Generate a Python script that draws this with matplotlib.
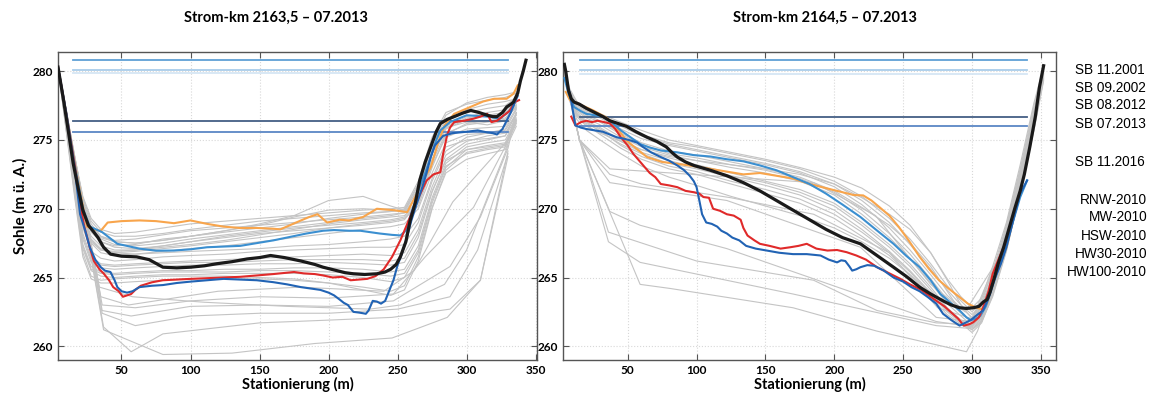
import matplotlib
matplotlib.use('Agg')
from matplotlib import pyplot as plt
import numpy as np

plt.rcParams['font.family'] = ['Lato', 'DejaVu Sans']

titles = ['Strom-km 2163,5 \u2013 07.2013', 'Strom-km 2164,5 \u2013 07.2013']
legend_labels = ['SB 11.2001', 'SB 09.2002', 'SB 08.2012', 'SB 07.2013', 'SB 11.2016',
                 'RNW-2010', 'MW-2010', 'HSW-2010', 'HW30-2010', 'HW100-2010']

# water levels (RNW, MW, HSW, HW30, HW100)
wl_left = [275.6, 276.35, 279.85, 280.1, 280.85]
wl_right = [276.05, 276.7, 279.8, 280.1, 280.85]
wl_x_left = [15, 330]
wl_x_right = [15, 340]

# ---------------- Strom-km 2163,5 (left) ----------------
L_sb2001_x = [4, 10, 16, 22, 25, 30, 35, 40, 50, 63, 75, 88, 100, 112, 124, 136, 148, 160, 165, 172, 180, 186, 192, 199, 208,
              215, 225, 235, 247, 257, 264, 269, 274, 279, 284, 291, 298, 305, 312, 320, 329, 334, 337]
L_sb2001_y = [280.3, 277.0, 273.4, 270.2, 268.7, 268.5, 268.4, 269.0, 269.1, 269.15, 269.1, 268.95, 269.15, 268.9, 268.7, 268.6,
              268.6, 268.55, 268.5, 268.8, 269.15, 269.4, 269.6, 269.0, 269.2, 269.15, 269.4, 270.0, 269.9, 269.75, 271.1,
              272.2, 273.0, 274.7, 276.06, 276.9, 277.2, 277.5, 277.8, 278.0, 278.0, 278.37, 278.97]

L_sb2002_x = [4, 10, 16, 22, 27, 36, 47, 63, 75, 88, 100, 112, 124, 136, 148, 160, 172, 184, 196, 204, 215, 223, 237, 246, 252,
              256, 259, 263, 266, 270, 274, 278, 281, 288, 300, 315, 324, 330, 334]
L_sb2002_y = [280.3, 277.0, 273.3, 270.0, 268.7, 268.3, 267.45, 267.1, 266.95, 266.96, 267.05, 267.2, 267.25, 267.3, 267.5,
              267.7, 267.95, 268.2, 268.4, 268.45, 268.4, 268.4, 268.2, 268.1, 268.06, 268.4, 269.4, 270.6, 271.6, 272.6,
              273.76, 275.0, 275.7, 276.3, 276.8, 276.7, 276.55, 277.0, 277.5]

L_sb2012_x = [4, 10, 16, 20, 23, 27, 30, 34, 37, 41, 44, 48, 51, 54, 57, 60, 64, 72, 80, 90, 100, 112, 124, 136, 148, 160, 170,
              175, 182, 190, 196, 203, 210, 216, 222, 228, 234, 240, 246, 252, 257, 262, 267, 271, 276, 281, 283, 286, 288,
              291, 298, 305, 310, 315, 318, 322, 327, 331, 335, 338]
L_sb2012_y = [280.3, 276.9, 273.2, 270.4, 268.7, 267.2, 266.2, 265.6, 265.3, 264.8, 264.3, 264.0, 263.6, 263.7, 263.8, 264.1,
              264.4, 264.65, 264.8, 264.85, 264.9, 264.95, 265.0, 265.05, 265.15, 265.25, 265.35, 265.4, 265.3, 265.25,
              265.15, 265.0, 265.05, 264.8, 264.85, 264.9, 265.1, 265.6, 266.5, 267.7, 268.9, 270.1, 271.2, 272.05, 272.5,
              272.66, 274.0, 275.4, 275.9, 276.3, 276.4, 276.55, 276.7, 276.9, 276.3, 276.4, 276.8, 277.1, 277.76, 277.9]

L_sb2013_x = [4, 8, 12, 15, 19, 22, 26, 30, 33, 37, 42, 50, 61, 70, 80, 90, 100, 110, 119, 130, 141, 150, 158, 168, 180, 190,
              196, 204, 212, 218, 226, 235, 241, 245, 249, 252, 256, 259, 263, 266, 270, 274, 278, 281, 286, 291, 297, 303,
              309, 315, 319, 322, 326, 329, 332, 334, 337, 339, 341, 343]
L_sb2013_y = [280.3, 277.9, 275.3, 273.3, 271.3, 269.9, 268.8, 268.3, 267.9, 267.2, 266.7, 266.55, 266.5, 266.3, 265.75,
              265.7, 265.75, 265.85, 266.0, 266.15, 266.35, 266.45, 266.6, 266.45, 266.2, 265.95, 265.75, 265.55, 265.35,
              265.27, 265.22, 265.27, 265.4, 265.6, 265.95, 266.5, 267.6, 269.1, 270.5, 272.05, 273.4, 274.5, 275.6, 276.2,
              276.5, 276.7, 276.95, 277.15, 277.0, 276.8, 276.7, 276.7, 277.0, 277.4, 277.6, 277.76, 278.4, 279.3, 280.0,
              280.8]

L_sb2016_x = [4, 10, 16, 20, 24, 27, 31, 35, 38, 42, 45, 47, 50, 54, 58, 63, 72, 80, 90, 100, 112, 124, 136, 148, 160, 170,
              180, 187, 194, 200, 204, 208, 211, 214, 218, 222, 225, 227, 229, 232, 235, 238, 241, 243, 245, 247, 250, 253,
              257, 260, 264, 268, 271, 274, 277, 283, 290, 300, 308, 315, 319, 322, 326, 329, 332, 335, 337]
L_sb2016_y = [280.3, 276.9, 273.0, 269.6, 268.3, 267.2, 266.3, 265.75, 265.5, 265.4, 264.8, 264.3, 264.0, 263.9, 264.0,
              264.3, 264.4, 264.45, 264.6, 264.7, 264.8, 264.9, 264.85, 264.8, 264.66, 264.5, 264.3, 264.2, 264.1, 263.9,
              263.7, 263.4, 263.16, 263.0, 262.5, 262.45, 262.4, 262.36, 262.6, 263.3, 263.25, 263.1, 263.3, 263.8, 264.3,
              264.8, 265.9, 266.7, 268.0, 269.15, 270.4, 271.6, 272.6, 273.76, 274.6, 275.3, 275.5, 275.6, 275.7, 275.55,
              275.5, 275.4, 275.8, 276.4, 277.0, 277.76, 278.2]

# grey survey profiles, shared stations
L_grid = [4, 10, 16, 22, 28, 35, 45, 60, 80, 100, 125, 150, 175, 200, 225, 245, 255, 265, 275, 285, 300, 315, 328, 336]
L_grey = [
    [280.3, 277.1, 273.8, 270.9, 269.3, 268.5, 268.2, 268.3, 268.6, 268.9, 269.1, 269.3, 269.5, 269.7, 269.9, 270.0, 270.1, 272.0, 275.2, 277.0, 277.6, 277.9, 278.1, 278.4],
    [280.3, 277.0, 273.7, 270.8, 269.1, 268.3, 268.0, 268.0, 268.2, 268.5, 268.8, 269.1, 269.3, 269.5, 269.7, 269.8, 269.9, 271.7, 274.7, 276.5, 277.0, 277.3, 277.5, 278.1],
    [280.3, 277.0, 273.6, 270.6, 268.9, 268.0, 267.6, 267.5, 267.7, 268.0, 268.3, 268.6, 268.9, 269.3, 269.6, 269.8, 270.0, 271.8, 274.8, 276.8, 277.7, 278.1, 278.3, 278.5],
    [280.3, 276.9, 273.5, 270.4, 268.7, 268.0, 267.7, 267.8, 268.1, 268.4, 268.6, 268.8, 269.0, 269.2, 269.4, 269.6, 269.7, 271.0, 274.0, 275.9, 276.6, 276.8, 277.0, 277.8],
    [280.3, 276.8, 273.2, 270.2, 268.6, 267.8, 267.4, 267.3, 267.5, 267.8, 268.1, 268.4, 268.7, 269.0, 269.3, 269.5, 269.7, 271.2, 274.3, 276.3, 277.2, 277.6, 277.8, 278.0],
    [280.3, 276.9, 273.4, 270.0, 268.3, 267.6, 267.3, 267.4, 267.8, 268.0, 268.4, 268.8, 269.4, 269.9, 270.0, 269.9, 269.8, 271.5, 274.5, 276.0, 276.7, 277.0, 277.2, 277.7],
    [280.3, 276.8, 273.2, 270.0, 268.4, 267.6, 267.2, 267.1, 267.3, 267.6, 267.9, 268.2, 268.4, 268.6, 268.8, 269.0, 269.2, 270.5, 273.4, 275.5, 276.1, 276.3, 276.5, 277.4],
    [280.3, 276.7, 273.0, 269.6, 268.0, 267.3, 267.0, 267.0, 267.2, 267.4, 267.7, 268.1, 268.5, 268.9, 269.2, 269.4, 269.5, 270.6, 273.6, 275.8, 276.5, 276.8, 277.0, 277.5],
    [280.3, 276.5, 272.8, 269.4, 267.8, 267.1, 266.8, 266.9, 267.1, 267.3, 267.6, 267.9, 268.2, 268.6, 268.9, 269.1, 269.3, 270.2, 273.0, 275.4, 276.2, 276.4, 276.6, 277.4],
    [280.3, 276.8, 273.3, 270.1, 268.5, 267.9, 267.6, 267.5, 267.7, 268.0, 268.4, 268.9, 269.5, 270.6, 270.9, 270.2, 269.9, 271.4, 274.2, 275.9, 276.3, 276.1, 276.4, 277.6],
    [280.3, 276.6, 272.9, 269.3, 267.7, 267.0, 266.9, 267.0, 267.3, 267.6, 268.0, 268.3, 268.6, 268.8, 269.0, 269.2, 269.4, 270.4, 273.2, 275.2, 275.8, 275.9, 276.0, 277.3],
    [280.3, 276.4, 272.6, 269.1, 267.5, 266.8, 266.6, 266.7, 266.9, 267.1, 267.3, 267.6, 267.9, 268.2, 268.5, 268.7, 268.9, 270.0, 272.6, 274.8, 275.4, 275.5, 275.8, 277.2],
    [280.3, 276.5, 272.7, 269.2, 267.6, 267.0, 266.8, 266.7, 266.8, 266.9, 267.0, 267.1, 267.3, 267.4, 267.6, 267.8, 268.0, 269.3, 272.2, 274.5, 275.0, 275.1, 275.3, 277.0],
    [280.3, 276.3, 272.2, 268.6, 266.9, 266.4, 266.2, 266.3, 266.5, 266.6, 266.7, 266.9, 267.0, 267.1, 267.2, 267.2, 267.4, 269.0, 272.0, 274.2, 275.2, 275.5, 275.7, 276.9],
    [280.3, 276.2, 272.0, 268.2, 266.5, 266.0, 265.9, 266.0, 266.1, 266.2, 266.3, 266.4, 266.5, 266.6, 266.7, 266.6, 266.8, 268.5, 271.6, 273.9, 274.9, 275.3, 275.5, 276.8],
    [280.3, 276.1, 271.9, 268.0, 266.3, 265.9, 265.8, 265.9, 266.0, 266.1, 266.1, 266.2, 266.3, 266.3, 266.3, 266.2, 266.4, 268.2, 271.3, 273.5, 274.3, 274.5, 274.7, 276.4],
    [280.3, 276.0, 271.7, 267.8, 266.1, 265.7, 265.6, 265.7, 265.8, 265.9, 265.9, 266.0, 266.0, 266.1, 266.0, 265.9, 266.1, 267.9, 271.2, 273.6, 274.7, 275.0, 275.3, 276.6],
    [280.3, 275.9, 271.5, 267.4, 265.8, 265.4, 265.3, 265.4, 265.5, 265.5, 265.6, 265.6, 265.7, 265.7, 265.6, 265.4, 265.6, 267.3, 270.8, 273.3, 274.5, 274.8, 275.0, 276.5],
    [280.3, 275.8, 271.4, 267.3, 265.6, 265.3, 265.2, 265.3, 265.4, 265.4, 265.4, 265.5, 265.5, 265.4, 265.3, 265.1, 265.3, 267.0, 270.6, 273.1, 274.0, 274.3, 274.5, 276.2],
    [280.3, 275.8, 271.3, 267.1, 265.5, 265.1, 265.0, 265.1, 265.2, 265.2, 265.3, 265.3, 265.3, 265.2, 265.0, 264.7, 265.0, 266.8, 270.4, 273.0, 274.3, 274.6, 274.8, 276.4],
    [280.3, 275.7, 271.1, 266.8, 265.1, 264.8, 264.9, 265.0, 265.1, 265.1, 265.1, 265.0, 264.9, 264.6, 264.1, 263.7, 264.1, 266.2, 270.0, 272.8, 274.1, 274.4, 274.6, 276.3],
    [280.3, 275.6, 270.9, 266.5, 264.9, 264.6, 264.6, 264.7, 264.8, 264.9, 264.9, 264.9, 264.8, 264.6, 264.3, 264.0, 264.4, 266.5, 270.1, 272.6, 273.6, 274.0, 274.3, 276.0],
]
# older surveys with few stations
L_old = [
    ([4, 36, 60, 100, 150, 200, 247, 270, 305, 329, 336], [280.3, 263.0, 262.8, 263.3, 263.6, 263.5, 263.8, 266.5, 270.1, 274.7, 277.0]),
    ([4, 36, 57, 100, 150, 200, 247, 288, 310, 330, 336], [280.3, 262.6, 262.2, 262.9, 263.0, 262.9, 263.3, 265.8, 269.4, 274.4, 277.0]),
    ([4, 36, 60, 100, 150, 200, 250, 288, 308, 330], [280.3, 262.4, 261.5, 262.2, 262.4, 262.4, 262.7, 263.6, 267.0, 274.0]),
    ([4, 37, 57, 80, 150, 200, 246, 288, 310, 330], [280.3, 261.4, 259.6, 260.9, 261.7, 261.9, 262.1, 262.7, 264.8, 274.2]),
    ([4, 37, 80, 130, 190, 246, 286, 310, 330], [280.3, 261.2, 259.4, 259.5, 260.2, 260.6, 262.1, 264.8, 273.8]),
    ([4, 35, 55, 120, 180, 240, 262, 290, 330], [280.3, 263.6, 263.0, 264.0, 264.3, 264.0, 265.5, 270.5, 275.0]),
    ([4, 34, 58, 110, 170, 230, 252, 284, 300, 330], [280.3, 264.3, 263.6, 263.2, 262.9, 262.7, 263.0, 264.5, 267.0, 274.6]),
]

# ---------------- Strom-km 2164,5 (right) ----------------
R_sb2001_x = [5, 8, 15, 25, 35, 42, 49, 56, 64, 75, 86, 98, 110, 122, 134, 146, 158, 170, 182, 194, 206, 214, 221, 227, 233,
              240, 247, 254, 262, 269, 276, 283, 291, 297, 303, 307, 311, 315, 320, 325, 330, 335]
R_sb2001_y = [278.5, 277.9, 277.6, 277.15, 276.6, 275.9, 274.97, 274.4, 273.76, 273.4, 273.27, 273.1, 272.9, 272.7, 272.5,
              272.6, 272.4, 272.2, 271.8, 271.5, 271.2, 271.0, 270.97, 270.6, 270.1, 269.5, 268.66, 267.7, 266.5, 265.6,
              264.8, 264.2, 263.57, 263.1, 262.8, 262.7, 263.1, 264.8, 266.0, 267.2, 269.2, 271.3]

R_sb2002_x = [4, 7, 11, 16, 20, 26, 32, 38, 45, 52, 59, 66, 74, 86, 98, 110, 122, 134, 146, 158, 170, 182, 194, 206, 219, 230,
              243, 252, 262, 270, 277, 284, 291, 296, 299, 303, 306, 310, 313, 318, 323, 329, 335, 340]
R_sb2002_y = [279.5, 278.4, 277.4, 277.1, 276.9, 276.8, 276.7, 276.3, 275.7, 275.2, 274.7, 274.45, 274.24, 274.1, 273.9,
              273.8, 273.6, 273.45, 273.15, 272.8, 272.3, 271.8, 271.1, 270.3, 269.4, 268.5, 267.45, 266.6, 265.75, 264.8,
              263.8, 263.2, 262.6, 262.1, 261.9, 262.0, 262.2, 262.9, 263.8, 265.3, 266.7, 268.8, 270.85, 272.06]

R_sb2012_x = [9, 12, 16, 20, 24, 28, 33, 37, 41, 45, 50, 54, 60, 66, 70, 74, 80, 86, 92, 98, 102, 105, 109, 112, 117, 122, 127,
              132, 134, 137, 142, 146, 153, 161, 168, 174, 180, 187, 195, 202, 209, 216, 223, 231, 240, 248, 255, 263, 272,
              280, 286, 290, 294, 298, 301, 305, 308, 312, 315, 320, 325]
R_sb2012_y = [276.7, 276.06, 276.3, 276.4, 276.3, 276.4, 276.3, 276.2, 275.8, 275.2, 274.6, 274.0, 273.3, 272.6, 272.3,
              271.8, 271.7, 271.57, 271.3, 271.2, 271.1, 270.85, 270.8, 270.0, 269.85, 269.6, 269.5, 269.2, 268.6, 268.05,
              267.7, 267.45, 267.3, 267.1, 267.2, 267.3, 267.45, 267.1, 266.96, 267.0, 266.84, 266.6, 266.3, 265.75, 265.3,
              264.9, 264.5, 264.1, 263.45, 262.9, 262.36, 262.0, 261.5, 261.6, 261.75, 262.1, 262.8, 264.0, 265.27, 266.5,
              267.7]

R_sb2013_x = [4, 5, 7, 9, 11, 15, 20, 26, 32, 37, 43, 49, 56, 64, 71, 78, 82, 86, 92, 98, 110, 122, 134, 146, 158, 170, 182,
              194, 206, 219, 231, 243, 252, 262, 270, 279, 285, 291, 296, 301, 305, 308, 311, 313, 316, 319, 323, 327, 331,
              335, 338, 342, 346, 349, 352]
R_sb2013_y = [280.5, 280.0, 278.6, 278.0, 277.76, 277.6, 277.3, 277.0, 276.7, 276.4, 276.2, 276.0, 275.6, 275.2, 274.9,
              274.5, 274.1, 273.76, 273.4, 273.15, 272.8, 272.4, 271.9, 271.3, 270.6, 269.9, 269.2, 268.5, 267.9, 267.45,
              266.6, 265.75, 265.1, 264.3, 263.8, 263.3, 263.0, 262.8, 262.75, 262.8, 262.9, 263.2, 263.4, 263.9, 264.9,
              266.0, 267.2, 268.6, 270.0, 271.3, 272.5, 274.5, 276.7, 278.85, 280.4]

R_sb2016_x = [6, 8, 12, 16, 20, 26, 32, 37, 42, 47, 52, 57, 61, 67, 74, 80, 86, 91, 95, 98, 100, 102, 104, 107, 111, 115,
              118, 122, 126, 131, 136, 143, 151, 160, 170, 180, 190, 196, 202, 205, 208, 211, 213, 216, 219, 224, 229, 236,
              243, 250, 256, 262, 268, 274, 279, 285, 291, 295, 299, 304, 308, 312, 316, 321, 325, 330, 335, 340]
R_sb2016_y = [279.0, 278.4, 276.06, 275.9, 275.8, 275.7, 275.6, 275.4, 275.2, 275.1, 274.97, 274.8, 274.5, 274.1, 273.76,
              273.5, 273.15, 272.8, 272.4, 272.0, 271.57, 270.6, 269.6, 269.0, 268.9, 268.7, 268.4, 268.2, 267.9, 267.7,
              267.3, 267.1, 266.96, 266.8, 266.7, 266.7, 266.6, 266.3, 266.1, 266.25, 266.2, 265.8, 265.5, 265.6, 265.75,
              265.9, 265.85, 265.5, 265.0, 264.7, 264.3, 264.0, 263.57, 263.1, 262.36, 261.9, 261.5, 261.7, 261.9, 262.3,
              262.6, 263.5, 264.8, 266.0, 267.2, 269.2, 271.1, 272.06]

R_grid = [3, 8, 13, 20, 30, 45, 60, 80, 100, 125, 150, 175, 200, 220, 240, 255, 270, 282, 292, 300, 307, 315, 325, 335, 345, 352]
R_grey = [
    [280.3, 278.7, 277.8, 277.3, 276.9, 276.3, 275.7, 275.0, 274.6, 274.1, 273.6, 273.0, 272.3, 271.5, 270.2, 268.8, 266.8, 264.9, 263.6, 262.8, 263.5, 265.8, 269.0, 273.2, 277.7, 280.3],
    [280.3, 278.6, 277.6, 277.2, 276.8, 276.1, 275.4, 274.8, 274.5, 274.0, 273.5, 272.9, 272.0, 270.9, 269.3, 267.8, 266.0, 264.4, 263.3, 262.5, 263.2, 265.5, 268.8, 272.9, 277.5, 280.2],
    [280.3, 278.5, 277.5, 277.1, 276.7, 276.0, 275.3, 274.7, 274.3, 273.8, 273.3, 272.7, 271.8, 270.6, 269.0, 267.4, 265.6, 264.1, 263.0, 262.3, 263.0, 265.2, 268.5, 272.6, 277.2, 280.1],
    [280.3, 278.4, 277.4, 277.0, 276.6, 275.8, 275.1, 274.6, 274.2, 273.7, 273.2, 272.6, 271.6, 270.3, 268.6, 267.0, 265.2, 263.7, 262.8, 262.1, 262.9, 265.0, 268.2, 272.4, 277.0, 280.0],
    [280.3, 278.3, 277.3, 276.8, 276.4, 275.5, 274.8, 274.2, 273.9, 273.4, 272.9, 272.3, 271.3, 270.1, 268.8, 267.5, 265.8, 264.0, 262.5, 261.7, 262.4, 264.6, 267.9, 272.1, 276.6, 279.9],
    [280.3, 278.3, 277.2, 276.7, 276.3, 275.4, 274.7, 274.0, 273.7, 273.2, 272.8, 272.2, 271.2, 269.9, 268.2, 266.7, 264.9, 263.4, 262.4, 261.8, 262.5, 264.5, 267.8, 272.0, 276.5, 279.8],
    [280.3, 278.2, 277.1, 276.6, 276.1, 275.2, 274.5, 273.9, 273.5, 273.0, 272.6, 272.0, 271.0, 269.6, 267.9, 266.4, 264.6, 263.1, 262.2, 261.5, 262.2, 264.2, 267.5, 271.8, 276.3, 279.7],
    [280.3, 278.1, 277.0, 276.4, 275.9, 275.0, 274.3, 273.7, 273.2, 272.6, 272.0, 271.4, 270.4, 269.0, 267.4, 266.0, 264.3, 262.8, 261.9, 261.3, 261.9, 263.9, 267.2, 271.5, 276.0, 279.5],
    [280.3, 278.1, 276.9, 276.3, 275.8, 274.9, 274.1, 273.5, 273.0, 272.4, 271.9, 271.2, 270.2, 268.8, 267.2, 265.8, 264.1, 262.7, 261.8, 261.2, 261.8, 263.8, 267.1, 271.3, 275.8, 279.4],
    [280.3, 278.0, 276.9, 276.3, 275.6, 274.7, 274.0, 273.3, 272.9, 272.3, 271.7, 271.0, 269.9, 268.5, 266.9, 265.5, 263.9, 262.6, 261.8, 261.4, 262.0, 264.4, 267.8, 272.0, 276.4, 279.8],
    [280.3, 278.0, 276.8, 276.2, 275.7, 274.6, 273.8, 273.1, 272.7, 272.0, 271.4, 270.7, 269.6, 268.3, 266.8, 265.4, 263.8, 262.5, 261.7, 261.0, 261.7, 263.7, 267.0, 271.3, 275.9, 279.5],
    [280.3, 278.0, 276.8, 276.1, 275.4, 274.4, 273.6, 272.9, 272.5, 271.8, 271.1, 270.4, 269.3, 268.0, 266.6, 265.2, 263.6, 262.3, 261.6, 261.2, 261.8, 263.6, 266.9, 271.2, 275.7, 279.3],
    [280.3, 277.9, 276.7, 276.0, 275.5, 274.9, 274.3, 273.8, 273.5, 273.2, 272.9, 272.5, 271.8, 270.8, 269.6, 268.5, 266.8, 264.8, 263.0, 262.0, 262.6, 264.9, 268.3, 272.5, 276.9, 280.0],
    [280.3, 277.8, 276.5, 275.7, 275.0, 274.0, 273.1, 272.3, 271.7, 270.9, 270.2, 269.5, 268.6, 267.6, 266.4, 265.2, 263.9, 262.7, 261.9, 261.5, 262.1, 264.0, 267.4, 271.6, 276.2, 279.6],
]
R_old = [
    ([3, 10, 15, 37, 60, 125, 185, 240, 275, 300, 320, 340, 352], [280.3, 277.0, 275.0, 272.5, 271.8, 270.8, 269.6, 266.8, 262.8, 262.0, 266.8, 274.8, 280.0]),
    ([3, 15, 37, 122, 219, 274, 300, 322, 342], [280.3, 275.0, 271.9, 270.6, 267.2, 262.1, 261.8, 267.0, 275.5]),
    ([3, 15, 37, 59, 122, 231, 274, 300, 322, 342], [280.3, 275.0, 269.8, 268.8, 267.1, 263.3, 261.8, 261.4, 266.5, 275.0]),
    ([3, 15, 36, 100, 185, 231, 274, 300, 320, 342], [280.3, 275.0, 268.3, 266.2, 264.8, 262.6, 261.7, 261.6, 265.5, 275.2]),
    ([3, 15, 36, 59, 170, 274, 298, 322, 342], [280.3, 275.0, 267.6, 266.1, 263.8, 261.5, 261.3, 266.0, 274.8]),
    ([3, 15, 59, 81, 170, 231, 296, 304, 322, 342], [280.3, 275.0, 264.5, 264.2, 262.8, 261.1, 259.6, 261.1, 266.2, 275.0]),
    ([3, 15, 37, 185, 230, 270, 295, 320, 342], [280.3, 275.0, 272.9, 271.9, 269.5, 264.5, 262.5, 266.5, 275.6]),
]

# ---------------- styling ----------------
grey = '#c4c4c4'
wl_colors = ['#5b87c5', '#445f85', '#d6e6f4', '#a9cdea', '#5fa0d6']
c_2001 = '#f8a54c'
c_2002 = '#3b8fd0'
c_2012 = '#e02a2a'
c_2016 = '#2163b4'

fig = plt.figure(figsize=(11.49, 3.98), dpi=100)
ax1 = fig.add_axes([58/1149, 1 - 360/398, (537-58)/1149, (360-52)/398])
ax2 = fig.add_axes([563/1149, 1 - 360/398, (1056-563)/1149, (360-52)/398])

panels = [
    (ax1, L_grid, L_grey, L_old, wl_left, wl_x_left,
     [(L_sb2001_x, L_sb2001_y, c_2001), (L_sb2002_x, L_sb2002_y, c_2002),
      (L_sb2012_x, L_sb2012_y, c_2012), (L_sb2016_x, L_sb2016_y, c_2016)],
     (L_sb2013_x, L_sb2013_y), (4, 351)),
    (ax2, R_grid, R_grey, R_old, wl_right, wl_x_right,
     [(R_sb2001_x, R_sb2001_y, c_2001), (R_sb2002_x, R_sb2002_y, c_2002),
      (R_sb2012_x, R_sb2012_y, c_2012), (R_sb2016_x, R_sb2016_y, c_2016)],
     (R_sb2013_x, R_sb2013_y), (3, 361)),
]

for ax, grid, greys, olds, wl, wlx, coloured, black, xl in panels:
    for ys in greys:
        ax.plot(grid, ys, color=grey, lw=0.8, zorder=2)
    for xs, ys in olds:
        ax.plot(xs, ys, color=grey, lw=0.8, zorder=2)
    for level, col in zip(wl, wl_colors):
        ax.plot(wlx, [level, level], color=col, lw=1.3, zorder=3)
    for xs, ys, col in coloured:
        ax.plot(xs, ys, color=col, lw=1.5, zorder=4)
    ax.plot(black[0], black[1], color='#1a1a1a', lw=2.3, zorder=5)

    ax.set_xlim(*xl)
    ax.set_ylim(259.0, 281.4)
    ax.set_xticks([50, 100, 150, 200, 250, 300, 350])
    ax.set_yticks([260, 265, 270, 275, 280])
    ax.grid(color='#d8d8d8', ls=':', lw=0.8)
    ax.tick_params(direction='in', length=4, width=0.8, color='#555555',
                   top=True, right=True, labelsize=8.5)
    for lab in ax.get_xticklabels() + ax.get_yticklabels():
        lab.set_fontweight('bold')
    for s in ax.spines.values():
        s.set_color('#555555')
        s.set_linewidth(1.0)
    ax.set_xlabel('Stationierung (m)', fontsize=10.5, fontweight='bold', labelpad=1)

ax1.set_ylabel('Sohle (m \u00fc. A.)', fontsize=11, fontweight='bold', labelpad=4)

fig.text(276/1149, 1 - 18/398, titles[0], ha='center', va='center', fontsize=10.5, fontweight='bold')
fig.text(825/1149, 1 - 18/398, titles[1], ha='center', va='center', fontsize=10.5, fontweight='bold')

# right-hand legend labels
leg_y = [70, 87.5, 105, 123.5, 161.5, 199.5, 217.5, 235.5, 254, 272]
for i, (lab, yy) in enumerate(zip(legend_labels, leg_y)):
    if i < 5:
        fig.text(1075/1149, 1 - yy/398, lab, ha='left', va='center', fontsize=9.8,
                 family=['Liberation Sans', 'DejaVu Sans'])
    else:
        fig.text(1147/1149, 1 - yy/398, lab, ha='right', va='center', fontsize=9.8,
                 family=['Liberation Sans', 'DejaVu Sans'])

fig.savefig('out.png', dpi=100)
